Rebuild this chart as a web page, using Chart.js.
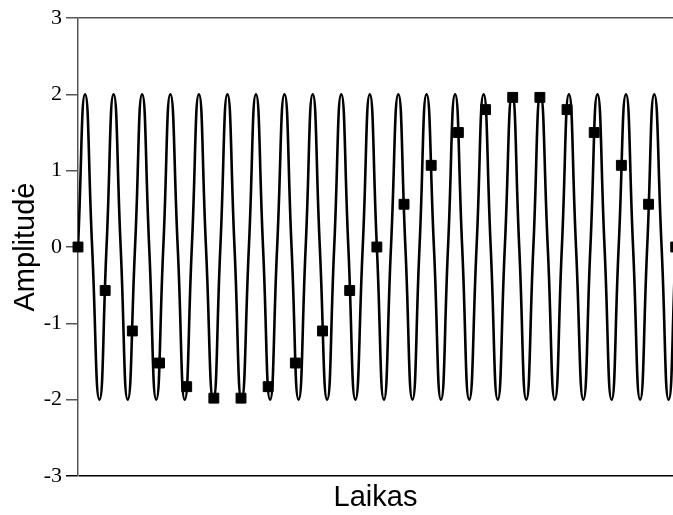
<!DOCTYPE html>
<html>
<head>
<meta charset="utf-8">
<script src="https://cdn.jsdelivr.net/npm/chart.js@4/dist/chart.umd.min.js"></script>
<style>
  html, body { margin: 0; padding: 0; background: #fff; }
  #wrap { width: 673px; height: 515px; }
</style>
</head>
<body>
<div id="wrap"><canvas id="c" width="673" height="515"></canvas></div>
<script>
// Sampled points (time in sample intervals, amplitude)
const sampleTimes = [0, 1, 2, 3, 4, 5, 6, 7, 8, 9, 10, 11, 12, 13, 14, 15, 16, 17, 18, 19, 20, 21, 22];
const sampleValues = [0, -0.57, -1.1, -1.52, -1.83, -1.98, -1.98, -1.83, -1.52, -1.1, -0.57, 0,
                      0.56, 1.07, 1.5, 1.8, 1.96, 1.96, 1.8, 1.5, 1.07, 0.56, 0];

// Continuous wave: zero crossings, peaks and troughs
const curveTimes = [
  0.00, 0.26, 0.52, 0.79, 1.05, 1.31, 1.57, 1.83, 2.10, 2.36, 2.62, 2.88,
  3.14, 3.40, 3.67, 3.93, 4.19, 4.45, 4.71, 4.98, 5.24, 5.50, 5.76, 6.02,
  6.29, 6.55, 6.81, 7.07, 7.33, 7.60, 7.86, 8.12, 8.38, 8.64, 8.90, 9.17,
  9.43, 9.69, 9.95, 10.21, 10.48, 10.74, 11.00, 11.26, 11.52, 11.79, 12.05, 12.31,
  12.57, 12.83, 13.10, 13.36, 13.62, 13.88, 14.14, 14.40, 14.67, 14.93, 15.19, 15.45,
  15.71, 15.98, 16.24, 16.50, 16.76, 17.02, 17.29, 17.55, 17.81, 18.07, 18.33, 18.60,
  18.86, 19.12, 19.38, 19.64, 19.90, 20.17, 20.43, 20.69, 20.95, 21.21, 21.48, 21.74,
  22.00
];
const curveValues = [
  0, 2, 0, -2, 0, 2, 0, -2, 0, 2, 0, -2,
  0, 2, 0, -2, 0, 2, 0, -2, 0, 2, 0, -2,
  0, 2, 0, -2, 0, 2, 0, -2, 0, 2, 0, -2,
  0, 2, 0, -2, 0, 2, 0, -2, 0, 2, 0, -2,
  0, 2, 0, -2, 0, 2, 0, -2, 0, 2, 0, -2,
  0, 2, 0, -2, 0, 2, 0, -2, 0, 2, 0, -2,
  0, 2, 0, -2, 0, 2, 0, -2, 0, 2, 0, -2,
  0
];

const yTicks = [-3, -2, -1, 0, 1, 2, 3];
const xTitle = 'Laikas';
const yTitle = 'Amplitudė';

const curveData = curveTimes.map((t, i) => ({ x: t, y: curveValues[i] }));
const sampleData = sampleTimes.map((t, i) => ({ x: t, y: sampleValues[i] }));

new Chart(document.getElementById('c'), {
  type: 'line',
  data: {
    datasets: [
      {
        data: curveData,
        borderColor: '#000',
        borderWidth: 2.6,
        pointRadius: 0,
        tension: 0.55,
        fill: false
      },
      {
        data: sampleData,
        showLine: false,
        pointStyle: 'rect',
        pointRadius: 7,
        pointBorderWidth: 1,
        pointBackgroundColor: '#000',
        pointBorderColor: '#000',
        clip: false
      }
    ]
  },
  options: {
    responsive: false,
    animation: false,
    events: [],
    layout: { autoPadding: false, padding: { top: 18, right: 0, left: 0, bottom: 0 } },
    plugins: { legend: { display: false }, tooltip: { enabled: false } },
    scales: {
      x: {
        type: 'linear',
        min: 0,
        max: 21.9,
        ticks: { display: false },
        grid: { display: false },
        border: { display: false },
        title: {
          display: true,
          text: xTitle,
          color: '#000',
          font: { family: 'Liberation Sans, Arial, sans-serif', size: 29 },
          padding: { top: 6, bottom: 0 }
        },
        afterFit: s => { s.height = 39; }
      },
      y: {
        min: -3,
        max: 3,
        afterBuildTicks: s => { s.ticks = yTicks.map(v => ({ value: v })); },
        ticks: {
          color: '#000',
          padding: 4,
          font: { family: 'Liberation Serif, Times New Roman, serif', size: 22 }
        },
        grid: {
          color: c => c.tick && c.tick.value === 3 ? '#555' : (c.tick && c.tick.value === -3 ? '#000' : 'rgba(0,0,0,0)'),
          tickColor: c => c.tick && c.tick.value === -3 ? '#000' : '#555',
          lineWidth: 1.5,
          tickLength: 12,
          tickWidth: 1.5
        },
        border: { display: true, color: '#555', width: 1.5 },
        title: {
          display: true,
          text: yTitle,
          color: '#000',
          font: { family: 'Liberation Sans, Arial, sans-serif', size: 29 },
          padding: { top: 9, bottom: 0 }
        },
        afterFit: s => { s.width = 78; }
      }
    }
  }
});
</script>
</body>
</html>
